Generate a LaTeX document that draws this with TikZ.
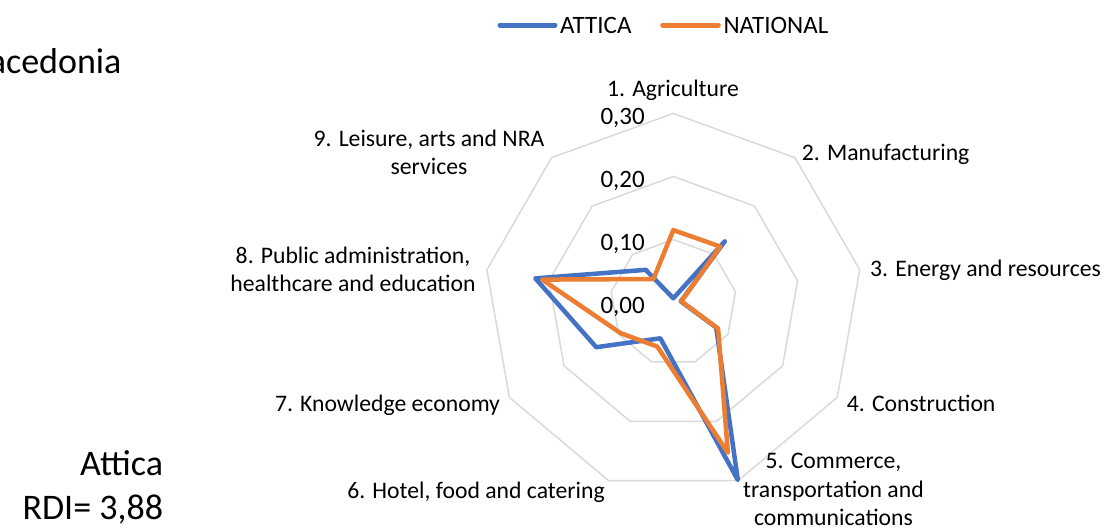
\documentclass[tikz,border=0pt]{standalone}
\usepackage{fontspec}
\setmainfont{Carlito}
\definecolor{sblue}{HTML}{4472C4}
\definecolor{sorange}{HTML}{ED7D31}
\definecolor{gridgray}{HTML}{D9D9D9}
\begin{document}
\begin{tikzpicture}[x=1pt,y=-1pt,
  grid/.style={draw=gridgray, line width=1.5pt},
  series/.style={line width=4.5pt, line join=round, line cap=round},
  cat/.style={font=\fontsize{23.7}{28.2}\selectfont, align=center, anchor=base, inner sep=0pt},
  val/.style={font=\fontsize{25}{30}\selectfont, anchor=base east, inner sep=0pt},
  legtext/.style={font=\fontsize{25}{30}\selectfont, anchor=base west, inner sep=0pt},
  big/.style={font=\fontsize{36}{44}\selectfont, inner sep=0pt, anchor=base east}]
\useasboundingbox (0,0) rectangle (1104,530);

% grid rings
\begin{scope}[shift={(673.3,302.7)}]
  \foreach \r in {63.1,126.2,189.3} {
    \draw[grid] (-90:\r) -- (-50:\r) -- (-10:\r) -- (30:\r) -- (70:\r)
      -- (110:\r) -- (150:\r) -- (190:\r) -- (230:\r) -- cycle;
  }
  % ATTICA
  \foreach \v [count=\k from 0] in {4.4,80.1,7.6,49.5,188.7,37.9,89,140.1,42.9}
    \coordinate (a\k) at ({-90+40*\k}:\v);
  % NATIONAL
  \foreach \v [count=\k from 0] in {72.6,73.2,8.2,51.7,159.6,46.7,60.9,133.1,30.9}
    \coordinate (n\k) at ({-90+40*\k}:\v);
\end{scope}

\draw[series, sblue] (a0) -- (a1) -- (a2) -- (a3) -- (a4) -- (a5) -- (a6) -- (a7) -- (a8) -- cycle;
\draw[series, sorange] (n0) -- (n1) -- (n2) -- (n3) -- (n4) -- (n5) -- (n6) -- (n7) -- (n8) -- cycle;

% value labels
\node[val] (v30) at (645,124.4) {0,30};
\node[val] (v20) at (645,187.5) {0,20};
\node[val] (v10) at (645,250.6) {0,10};
\node[val] (v00) at (645,313.7) {0,00};

% category labels (base = baseline of the last line)
\node[cat] (c1) at (673,96.7) {1. Agriculture};
\node[cat, anchor=base west] (c2) at (801.7,160) {2. Manufacturing};
\node[cat, anchor=base west] (c3) at (870,276.7) {3. Energy and resources};
\node[cat, anchor=base west] (c4) at (846.7,411.7) {4. Construction};
\node[cat] (c5) at (833.5,525.2) {5. Commerce,\\transportation and\\communications};
\node[cat] (c6) at (476,498.3) {6. Hotel, food and catering};
\node[cat] (c7) at (387.5,411.7) {7. Knowledge economy};
\node[cat] (c8) at (353,291.7) {8. Public administration,\\healthcare and education};
\node[cat] (c9) at (429,174.5) {9. Leisure, arts and NRA\\services};

% legend
\coordinate (lb1) at (500,25);
\coordinate (lb2) at (555,25);
\coordinate (lo1) at (662.7,25);
\coordinate (lo2) at (718.3,25);
\draw[series, sblue, line width=5pt] (lb1) -- (lb2);
\draw[series, sorange, line width=5pt] (lo1) -- (lo2);
\node[legtext] (lt1) at (560,33.3) {ATTICA};
\node[legtext] (lt2) at (723.3,33.3) {NATIONAL};

% side texts
\node[big] (mac) at (121.7,73.3) {Macedonia};
\node[big] (att) at (163.3,475) {Attica};
\node[big] (rdi) at (163.3,519) {RDI= 3,88};
\end{tikzpicture}
\end{document}
